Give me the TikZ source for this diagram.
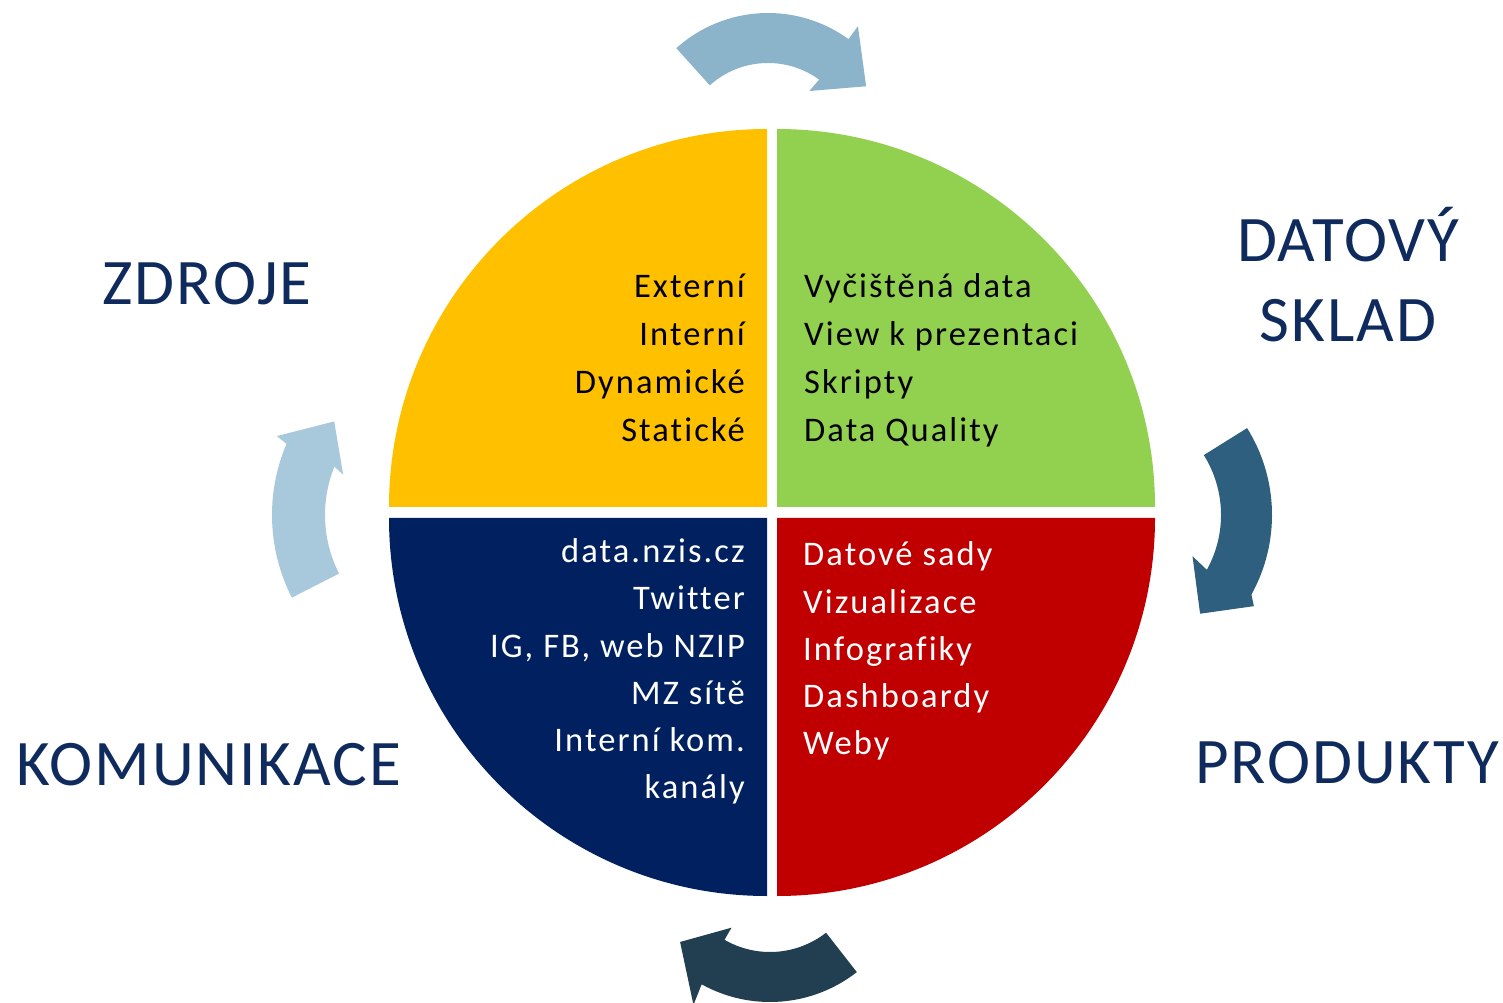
\documentclass[tikz,border=0pt]{standalone}
\usepackage{fontspec}
\setmainfont{Carlito}
\newfontfamily\textkruh[LetterSpace=6, Ligatures=NoCommon]{Carlito}
\newfontfamily\textnadpis[LetterSpace=3, Ligatures=NoCommon]{Carlito}
\usepackage{tikz}

\definecolor{Zlute}{HTML}{FFC000}
\definecolor{Zelene}{HTML}{92D050}
\definecolor{Modre}{HTML}{002060}
\definecolor{Cervene}{HTML}{C00000}
\definecolor{Nadpis}{HTML}{0F2A5C}
\definecolor{SipkaA}{HTML}{8BB4CB}
\definecolor{SipkaB}{HTML}{2F5F7E}
\definecolor{SipkaC}{HTML}{223F51}
\definecolor{SipkaD}{HTML}{A8C9DC}

\begin{document}
\begin{tikzpicture}[x=1pt, y=1pt, inner/.style={inner sep=0pt, font=\textkruh\fontsize{34.5}{40}\selectfont}, lefttext/.style={inner, anchor=base east}, righttext/.style={inner, anchor=base west}, title/.style={inner sep=0pt, anchor=base, text=Nadpis, font=\textnadpis\fontsize{65}{78}\selectfont}]

\useasboundingbox (0,0) rectangle (1503,1002);

% quadrants
\fill[Zlute] (767,495) -- ++(180:378) arc[start angle=180, end angle=90, radius=378] -- cycle;
\fill[Zelene] (777,495) -- ++(90:378) arc[start angle=90, end angle=0, radius=378] -- cycle;
\fill[Modre] (767,484) -- ++(270:378) arc[start angle=270, end angle=180, radius=378] -- cycle;
\fill[Cervene] (777,484) -- ++(0:378) arc[start angle=0, end angle=-90, radius=378] -- cycle;

% cycle arrows
\begin{scope}[shift={(768,852)}]
\fill[SipkaA] (132:137) arc[start angle=132, end angle=54, radius=137] -- (54:153) -- (33:117) -- (55:72) -- (54:87) arc[start angle=54, end angle=132, radius=87] -- cycle;
\end{scope}
\begin{scope}[shift={(1108,487)}]
\fill[SipkaB] (32:164) arc[start angle=32, end angle=-29, radius=164] -- (-32:172) -- (-47:135) -- (-26:94) -- (-29:113) arc[start angle=-29, end angle=32, radius=113] -- cycle;
\end{scope}
\begin{scope}[shift={(770,141)}]
\fill[SipkaC] (-52:141) arc[start angle=-52, end angle=-119, radius=141] -- (-118:163) -- (-138:121) -- (-120:77) -- (-120:91) arc[start angle=-120, end angle=-52, radius=91] -- cycle;
\end{scope}
\begin{scope}[shift={(454,487)}]
\fill[SipkaD] (207:182) arc[start angle=207, end angle=157, radius=182] -- (156:194) -- (142:152) -- (160:118) -- (158:129) arc[start angle=158, end angle=207, radius=129] -- cycle;
\end{scope}

% texts inside
\foreach \t [count=\i] in {Externí, Interní, Dynamické, Statické}
    \node[lefttext] (zdroj\i) at (745,752-48*\i) {\t};
\foreach \t [count=\i] in {Vyčištěná data, View k prezentaci, Skripty, Data Quality}
    \node[righttext] (sklad\i) at (804,752-48*\i) {\t};
\foreach \t [count=\i] in {data.nzis.cz, Twitter, {IG, FB, web NZIP}, MZ sítě, Interní kom., kanály}
    \node[lefttext, text=white] (kom\i) at (745,486-47*\i) {\t};
\foreach \t [count=\i] in {Datové sady, Vizualizace, Infografiky, Dashboardy, Weby}
    \node[righttext, text=white] (prod\i) at (803,483-47*\i) {\t};

% titles
\node[title] (zdroje) at (207,697) {ZDROJE};
\node[title] (datovy) at (1348,740) {DATOVÝ};
\node[title] (sklad) at (1348,660) {SKLAD};
\node[title] (komunikace) at (209,217) {KOMUNIKACE};
\node[title] (produkty) at (1347,219) {PRODUKTY};
\end{tikzpicture}
\end{document}
